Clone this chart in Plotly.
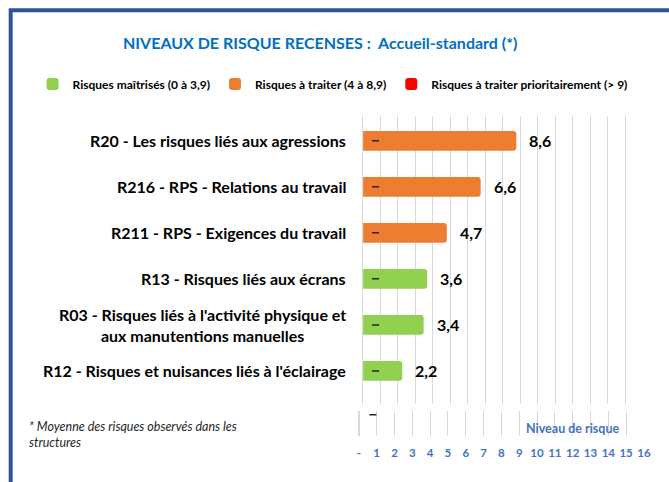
import plotly.graph_objects as go

W, H = 669, 482

codes = ["R12", "R03", "R13", "R211", "R216", "R20"]
labels = [
    "R12 - Risques et nuisances liés à l'éclairage",
    "R03 - Risques liés à l'activité physique et<br>aux manutentions manuelles",
    "R13 - Risques liés aux écrans",
    "R211 - RPS - Exigences du travail",
    "R216 - RPS - Relations au travail",
    "R20 - Les risques liés aux agressions",
]
values = [2.2, 3.4, 3.6, 4.7, 6.6, 8.6]
marker_values = [0.7, 0.7, 0.7, 0.7, 0.7, 0.7]
x_ticks = list(range(0, 17))
x_ticktext = ["-"] + [str(i) for i in range(1, 17)]

legend_names = ["Risques maîtrisés (0 à 3,9)", "Risques à traiter (4 à 8,9)",
                "Risques à traiter prioritairement (> 9)"]
colors = ["#92D050", "#ED7D31", "#FF0000"]
bounds = [(0, 4), (4, 9), (9, 100)]

FONT = "Lato"
BLUE_AX = "#4472C4"


def px(x):
    return x / W


def py(y):
    return 1 - y / H


fig = go.Figure()

# subplot 1 (x, y): grid of the chart area
fig.add_trace(go.Scatter(x=[0], y=[0], mode="markers", marker=dict(opacity=0),
                         showlegend=False, hoverinfo="skip"))

# subplot 2 (x2, y2): bars
for name, col, (lo, hi) in zip(legend_names, colors, bounds):
    xs = [v if lo <= v < hi else None for v in values]
    fig.add_trace(go.Bar(
        x=xs, y=codes, xaxis="x2", yaxis="y2", orientation="h",
        name="<b>" + name + "</b>",
        marker=dict(color=col, line=dict(width=0), cornerradius=3),
        width=0.43, hoverinfo="skip",
    ))
fig.add_trace(go.Scatter(
    x=marker_values, y=codes, xaxis="x2", yaxis="y2", mode="markers", showlegend=False,
    marker=dict(symbol="line-ew", size=5, line=dict(width=1.5, color="#262626")),
    hoverinfo="skip",
))

# subplot 3 (x3, y3): lower scale
fig.add_trace(go.Scatter(
    x=[0.79], y=[0.85], xaxis="x3", yaxis="y3", mode="markers", showlegend=False,
    marker=dict(symbol="line-ew", size=5, line=dict(width=1.5, color="#262626")),
    hoverinfo="skip",
))

annotations = []
for c, lab, v in zip(codes, labels, values):
    annotations.append(dict(
        x=0, y=c, xref="x2", yref="y2", text="<b>" + lab + "</b>",
        xanchor="right", yanchor="middle", xshift=-15, align="center",
        showarrow=False, font=dict(family=FONT, size=16, color="#000000"),
    ))
    annotations.append(dict(
        x=v, y=c, xref="x2", yref="y2", text="<b>" + f"{v:.1f}".replace(".", ",") + "</b>",
        xanchor="left", yanchor="middle", xshift=11, showarrow=False,
        font=dict(family=FONT, size=16, color="#000000"),
    ))

annotations.append(dict(
    x=px(322.5), y=py(42), xref="paper", yref="paper",
    text="<b>NIVEAUX DE RISQUE RECENSES :\u00a0 Accueil-standard (*)</b>",
    showarrow=False, xanchor="center", yanchor="middle",
    font=dict(family=FONT, size=16, color="#0070C0"),
))
annotations.append(dict(
    x=px(579), y=py(428), xref="paper", yref="paper",
    text="<b>Niveau de risque</b>", showarrow=False, xanchor="center", yanchor="middle",
    font=dict(family=FONT, size=12.5, color=BLUE_AX),
))
annotations.append(dict(
    x=px(25), y=py(434), xref="paper", yref="paper",
    text="<i>* Moyenne des risques observés dans les<br>structures</i>",
    showarrow=False, xanchor="left", yanchor="middle", align="left",
    font=dict(family=FONT, size=12.5, color="#262626"),
))

fig.update_layout(
    width=W, height=H,
    margin=dict(l=0, r=0, t=0, b=0),
    paper_bgcolor="white", plot_bgcolor="rgba(0,0,0,0)",
    barmode="overlay",
    showlegend=True,
    legend=dict(orientation="h", x=px(31), y=py(84), xanchor="left", yanchor="middle",
                font=dict(family=FONT, size=12, color="#000000"),
                itemwidth=30, traceorder="normal", bgcolor="rgba(0,0,0,0)"),
    xaxis=dict(domain=[px(365.7), px(649.4)], range=[0, 16], dtick=1,
               showgrid=True, gridcolor="#D9D9D9", gridwidth=1,
               zeroline=True, zerolinecolor="#D9D9D9", zerolinewidth=1,
               showticklabels=False, ticks="", anchor="y"),
    yaxis=dict(domain=[py(404), py(116)], range=[0, 1], visible=False, anchor="x"),
    xaxis2=dict(domain=[px(366), px(366 + 16 * 18.06)], range=[0, 16], visible=False,
                anchor="y2"),
    yaxis2=dict(domain=[py(405), py(115)], type="category", categoryarray=codes,
                categoryorder="array", range=[-0.74, 5.56], showgrid=False,
                showticklabels=False, ticks="", zeroline=False, anchor="x2"),
    xaxis3=dict(domain=[px(361.7), px(650.7)], range=[0, 16], tickvals=x_ticks,
                ticktext=x_ticktext, showgrid=True, gridcolor="#D9D9D9", gridwidth=1,
                zeroline=True, zerolinecolor="#D9D9D9", ticks="", anchor="y3",
                ticklabelstandoff=8,
                tickfont=dict(family=FONT, size=11.5, color=BLUE_AX, weight="bold")),
    yaxis3=dict(domain=[py(436), py(411)], range=[0, 1], showgrid=False,
                showticklabels=False, zeroline=False, ticks="", anchor="x3"),
    annotations=annotations,
    shapes=[dict(type="rect", xref="paper", yref="paper",
                 x0=px(8.8), y0=py(560), x1=px(740), y1=py(10.2),
                 line=dict(color="#2F5597", width=4), fillcolor="rgba(0,0,0,0)")],
)

fig.write_html("out.html", post_script="document.body.style.margin='0px';",
               config={"displayModeBar": False})
